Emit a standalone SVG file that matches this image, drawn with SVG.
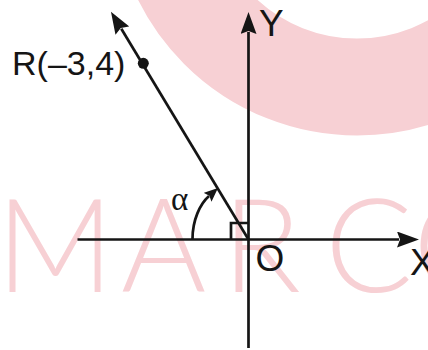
<svg xmlns="http://www.w3.org/2000/svg" width="428" height="350" viewBox="0 0 428 350">
  <style>
    .ax { stroke: #151515; stroke-width: 2.7; fill: none; }
    .lbl { font-family: "Liberation Sans", Arial, sans-serif; fill: #151515; }
    .wm { font-family: Lato, Roboto, "Liberation Sans", sans-serif; font-weight: 300; font-size: 130px; fill: #f7d0d4; }
  </style>
  <defs>
    <marker id="arr" viewBox="0 0 22 16" refX="2" refY="8" markerWidth="22" markerHeight="16" markerUnits="userSpaceOnUse" orient="auto">
      <path d="M0,0 L22,8 L0,16 L3,8 z" fill="#151515"/>
    </marker>
    <marker id="arrS" viewBox="0 0 14 12" refX="2" refY="6" markerWidth="14" markerHeight="12" markerUnits="userSpaceOnUse" orient="auto">
      <path d="M0,0 L14,6 L0,12 L2.5,6 z" fill="#151515"/>
    </marker>
  </defs>

  <g id="watermark">
    <circle cx="357" cy="-109" r="196" fill="none" stroke="#f7d0d4" stroke-width="97"/>
    <text class="wm" x="-4" y="292">M</text>
    <text class="wm" x="121" y="292">A</text>
    <text class="wm" x="222" y="292">R</text>
    <text class="wm" x="325" y="292">C</text>
    <text class="wm" x="413" y="292">O</text>
  </g>

  <g id="connectors">
    <line id="x-axis" class="ax" x1="77.5" y1="239.5" x2="399" y2="239.5" marker-end="url(#arr)"/>
    <line id="y-axis" class="ax" x1="248.5" y1="348" x2="248.5" y2="32" marker-end="url(#arr)"/>
    <line id="ray" class="ax" x1="248.5" y1="239.5" x2="121.3" y2="28.8" marker-end="url(#arr)"/>
    <path id="angle-arc" class="ax" d="M192.5,239 C192.5,220 200,204 209,196" marker-end="url(#arrS)"/>
    <polyline id="right-angle" class="ax" points="231,239.5 231,223 248.5,223"/>
  </g>

  <g id="point-R">
    <circle cx="143.3" cy="63.3" r="5.5" fill="#151515"/>
    <text class="lbl" x="12" y="75" font-size="34">R(–3,4)</text>
  </g>
  <g id="label-Y">
    <text class="lbl" x="259" y="36" font-size="37">Y</text>
  </g>
  <g id="label-O">
    <text class="lbl" x="255.5" y="271" font-size="37">O</text>
  </g>
  <g id="label-X">
    <text class="lbl" x="410" y="275" font-size="37">X</text>
  </g>
  <g id="label-alpha">
    <text x="171" y="210" font-family="Liberation Serif, 'Times New Roman', serif" font-size="33" fill="#151515">α</text>
  </g>
</svg>
